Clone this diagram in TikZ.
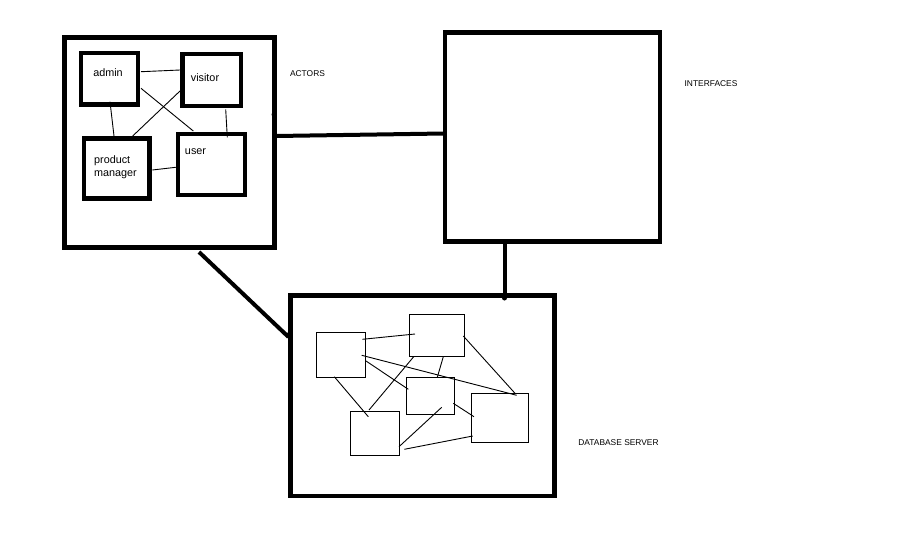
\documentclass[tikz,border=0pt]{standalone}
\usepackage{fontspec}
\setmainfont{Liberation Sans}
\begin{document}
\begin{tikzpicture}[x=1pt,y=-1pt,
  bigbox/.style={draw=black,line width=4.2pt,rectangle,inner sep=0pt,outer sep=0pt,fill=white},
  actorbox/.style={draw=black,line width=4.4pt,rectangle,inner sep=0pt,outer sep=0pt},
  dbbox/.style={draw=black,line width=1pt,rectangle,inner sep=0pt,outer sep=0pt},
  thick link/.style={draw=black,line width=4pt},
  thin link/.style={draw=black,line width=0.9pt},
  dot/.style={circle,fill=black,inner sep=0pt,minimum size=5pt},
  caplabel/.style={font=\fontsize{8.4}{10}\selectfont,inner sep=0pt},
  smalllabel/.style={font=\fontsize{10.8}{13}\selectfont,inner sep=0pt}]
\useasboundingbox[fill=white] (0,0) rectangle (914,539);

% big boxes
\node[bigbox,minimum width=210pt,minimum height=210pt] (actors) at (169.5,142.5) {};
\node[bigbox,minimum width=214.7pt,minimum height=209pt] (interfaces) at (552.7,137) {};
\node[bigbox,minimum width=264pt,minimum height=200.5pt] (db) at (422.5,395.75) {};

% actor boxes
\node[actorbox,minimum width=57pt,minimum height=51.6pt] (admin) at (109.2,78.5) {};
\node[actorbox,minimum width=58.7pt,minimum height=52pt] (visitor) at (211.7,80) {};
\node[actorbox,minimum width=65.3pt,minimum height=60pt] (pm) at (116.7,168.3) {};
\node[actorbox,minimum width=67pt,minimum height=61pt] (user) at (211.5,164.5) {};

\node[smalllabel] (adminlbl) at (108,73) {admin};
\node[smalllabel] (visitorlbl) at (205,78) {visitor};
\node[smalllabel,anchor=west,align=left] (pmlbl) at (94,167.5) {product\\manager};
\node[smalllabel] (userlbl) at (195.5,151.5) {user};

% actor links
\coordinate (c1) at (141,71.7);   \coordinate (c2) at (180,70);
\coordinate (c3) at (141,88.3);   \coordinate (c4) at (193.3,131);
\coordinate (c5) at (180,91);     \coordinate (c6) at (132.7,136);
\coordinate (c7) at (110,101.7);  \coordinate (c8) at (114,136);
\coordinate (c9) at (225.7,109.3); \coordinate (c10) at (227.3,137.3);
\coordinate (c11) at (152.3,170); \coordinate (c12) at (175.7,167.3);
\draw[thin link] (c1) -- (c2);
\draw[thin link] (c3) -- (c4);
\draw[thin link] (c5) -- (c6);
\draw[thin link] (c7) -- (c8);
\draw[thin link] (c9) -- (c10);
\draw[thin link] (c11) -- (c12);

% db boxes
\node[dbbox,minimum width=48.6pt,minimum height=45pt] (dA) at (341,354.8) {};
\node[dbbox,minimum width=55pt,minimum height=42pt] (dB) at (436.8,335.3) {};
\node[dbbox,minimum width=48pt,minimum height=37pt] (dC) at (430.3,395.8) {};
\node[dbbox,minimum width=49pt,minimum height=43.7pt] (dD) at (374.8,433.2) {};
\node[dbbox,minimum width=57pt,minimum height=49pt] (dE) at (499.8,417.8) {};

\coordinate (d1a) at (362.3,339.3); \coordinate (d1b) at (415,334);
\coordinate (d2a) at (361.7,355.3); \coordinate (d2b) at (516.7,395.3);
\coordinate (d3a) at (366,361);     \coordinate (d3b) at (408.3,389.3);
\coordinate (d4a) at (334.3,376.7); \coordinate (d4b) at (368.3,416.7);
\coordinate (d5a) at (413.7,356.7); \coordinate (d5b) at (369,410);
\coordinate (d6a) at (443.3,356.7); \coordinate (d6b) at (437.3,377.3);
\coordinate (d7a) at (463.3,336);   \coordinate (d7b) at (515,393.3);
\coordinate (d8a) at (441.7,407.3); \coordinate (d8b) at (399,446.7);
\coordinate (d9a) at (453.3,403.3); \coordinate (d9b) at (474,416.7);
\coordinate (d10a) at (404.3,449.3); \coordinate (d10b) at (472.7,436);
\foreach \i in {1,...,10} {\draw[thin link] (d\i a) -- (d\i b);}

% main connectors
\coordinate (ai1) at (276,136);  \coordinate (ai2) at (443.5,133.5);
\draw[thick link] (ai1) -- (ai2);
\coordinate (id1) at (504.5,242); \coordinate (id2) at (504.5,298);
\draw[thick link] (id1) -- (id2);
\coordinate (ad1) at (199,252);  \coordinate (ad2) at (288.5,337);
\draw[thick link] (ad1) -- (ad2);

\node[dot] (dot1) at (274,114.5) {};
\node[dot] (dot2) at (504.5,298) {};
\node[dot,minimum size=4pt] (dot3) at (287.5,334.5) {};

% labels
\node[caplabel] (actorslbl) at (307.5,73.5) {ACTORS};
\node[caplabel] (interfaceslbl) at (711,84) {INTERFACES};
\node[caplabel] (dblbl) at (618.5,442.5) {DATABASE SERVER};
\end{tikzpicture}
\end{document}
